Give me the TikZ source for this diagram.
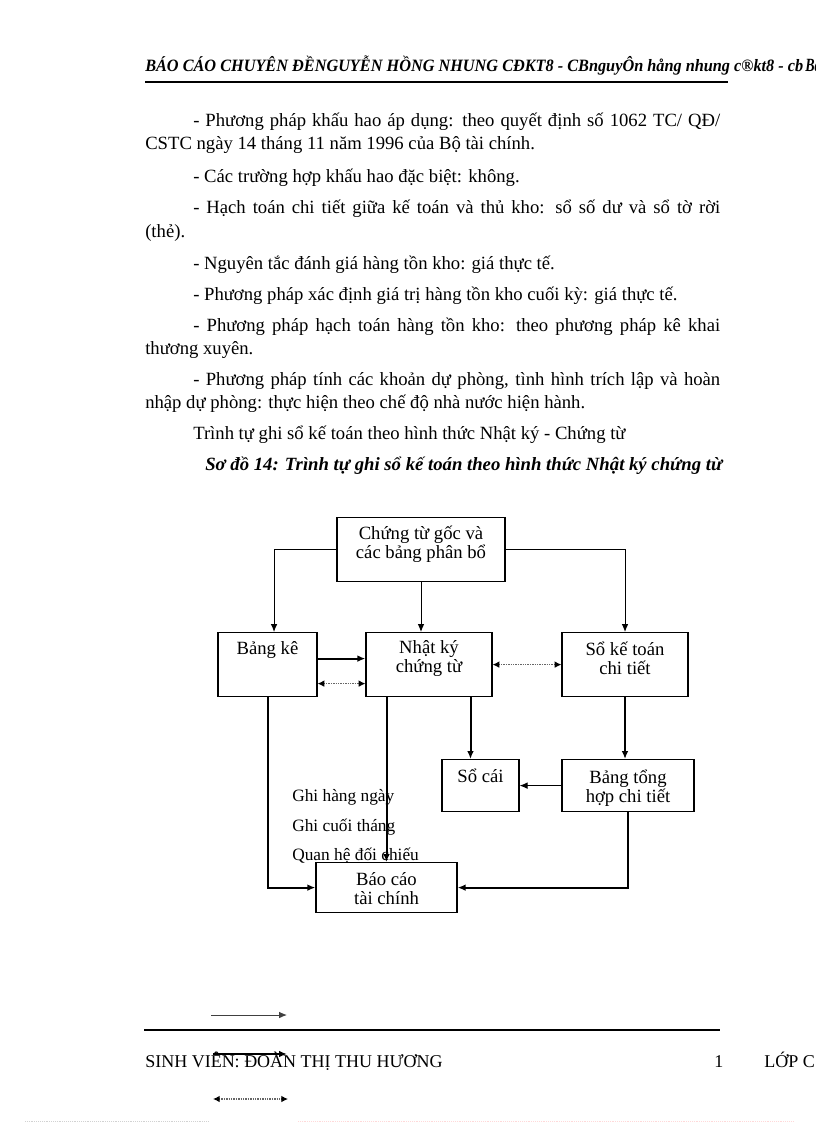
\documentclass[tikz,border=0pt]{standalone}
\usepackage{fontspec}
\setmainfont{Liberation Serif}
\usepackage{graphicx}
\usetikzlibrary{arrows.meta, calc}

\begin{document}
\begin{tikzpicture}[x=0.75pt, y=-0.75pt,
    box/.style={draw, line width=0.9pt, inner xsep=0pt, inner ysep=0pt, anchor=north, align=center, font=\fontsize{14}{14.5}\selectfont},
    flowthin/.style={line width=0.75pt, -{Latex[length=6pt,width=5pt]}},
    flow/.style={line width=1.5pt, -{Latex[length=6pt,width=5pt]}},
    relate/.style={line width=0.9pt, black!60, dash pattern=on 1pt off 0.8pt, {Latex[length=5pt,width=5pt,color=black]}-{Latex[length=5pt,width=5pt,color=black]}},
    body/.style={anchor=base west, inner sep=0pt, font=\fontsize{14}{16}\selectfont},
    legend/.style={anchor=base west, inner sep=0pt, font=\fontsize{13}{15}\selectfont}]
  \useasboundingbox (0,0) rectangle (816,1123);
  \clip (0,0) rectangle (816,1123);
  \fill[white] (0,0) rectangle (816,1123);

  % header
  \node[anchor=base west, inner sep=0pt] (head) at (145,72) {\resizebox{493.5pt}{\height}{\fontsize{13}{13}\selectfont\bfseries\itshape BÁO CÁO CHUYÊN ĐỀNGUYỄN HỒNG NHUNG CĐKT8 - CBnguyÔn hång nhung c®kt8 - cb}};
  \node[anchor=base west, inner sep=0pt] (headend) at (805,72) {\scalebox{0.75}[1]{\fontsize{14}{14}\selectfont\bfseries\itshape Bá}};
  \draw[line width=1.6pt] (145,82) -- (728,82);

  % text above the chart
  \node[body] (p1a) at (193,127) {\makebox[395.25pt][s]{- Phương pháp khấu hao áp dụng: theo quyết định số 1062 TC/ QĐ/}};
  \node[body] (p1b) at (145,150) {CSTC ngày 14 tháng 11 năm 1996 của Bộ tài chính.};
  \node[body] (p2) at (193,183) {- Các trường hợp khấu hao đặc biệt: không.};
  \node[body] (p3a) at (193,214) {\makebox[395.25pt][s]{- Hạch toán chi tiết giữa kế toán và thủ kho: sổ số dư và sổ tờ rời}};
  \node[body] (p3b) at (145,238) {(thẻ).};
  \node[body] (p4) at (193,269) {- Nguyên tắc đánh giá hàng tồn kho: giá thực tế.};
  \node[body] (p5) at (193,300) {- Phương pháp xác định giá trị hàng tồn kho cuối kỳ: giá thực tế.};
  \node[body] (p6a) at (193,331) {\makebox[395.25pt][s]{- Phương pháp hạch toán hàng tồn kho: theo phương pháp kê khai}};
  \node[body] (p6b) at (145,354) {thương xuyên.};
  \node[body] (p7a) at (193,385) {\makebox[395.25pt][s]{- Phương pháp tính các khoản dự phòng, tình hình trích lập và hoàn}};
  \node[body] (p7b) at (145,408) {nhập dự phòng: thực hiện theo chế độ nhà nước hiện hành.};
  \node[body] (p8) at (193,439) {Trình tự ghi sổ kế toán theo hình thức Nhật ký - Chứng từ};
  \node[body] (caption) at (205,470) {\resizebox{387.75pt}{\height}{\bfseries\itshape Sơ đồ 14: Trình tự ghi sổ kế toán theo hình thức Nhật ký chứng từ}};

  % boxes
  \node[box, minimum width=126pt, text height=30.75pt, text depth=17.25pt] (goc) at (421,517) {Chứng từ gốc và\\các bảng phân bổ};
  \node[box, minimum width=74.25pt, text height=16.5pt, text depth=31.5pt] (bangke) at (267.5,632) {Bảng kê};
  \node[box, minimum width=94.5pt, text height=30pt, text depth=18pt] (nhatky) at (429,632) {Nhật ký\\chứng từ};
  \node[box, minimum width=94.5pt, text height=31.5pt, text depth=16.5pt] (sochitiet) at (625,632) {Sổ kế toán\\chi tiết};
  \node[box, minimum width=57.75pt, text height=17.25pt, text depth=21.75pt] (socai) at (480.5,759) {Sổ cái};
  \node[box, minimum width=99pt, text height=32.25pt, text depth=6.75pt] (tonghop) at (628,759) {Bảng tổng\\hợp chi tiết};
  \node[box, minimum width=105.75pt, text height=31.5pt, text depth=6pt] (baocao) at (386.5,862) {Báo cáo\\tài chính};

  % legend texts
  \foreach \y/\name/\txt in {801/daily/{Ghi hàng ngày}, 831/monthly/{Ghi cuối tháng}, 860/check/{Quan hệ đối chiếu}}
    \node[legend] (\name) at (292,\y) {\txt};

  % connectors
  \draw[flowthin] (goc.west) -| ([xshift=4.9pt]bangke.north);
  \draw[flowthin] (goc.south) -- (goc.south |- nhatky.north);
  \draw[flowthin] (goc.east) -| (sochitiet.north);
  \draw[flow] ([yshift=4.5pt]bangke.east) -- ([yshift=4.5pt]bangke.east -| nhatky.west);
  \draw[relate] ([yshift=-14.25pt]bangke.east) -- ([yshift=-14.25pt]bangke.east -| nhatky.west);
  \draw[relate] (nhatky.east) -- (sochitiet.west);
  \draw[flow] (bangke.south) |- (baocao.west);
  \draw[flow] (nhatky.south -| baocao.north) -- (baocao.north);
  \draw[flow] ([xshift=-7.5pt]socai.north |- nhatky.south) -- ([xshift=-7.5pt]socai.north);
  \draw[flow] (sochitiet.south) -- (sochitiet.south |- tonghop.north);
  \draw[flowthin] (tonghop.west) -- (socai.east);
  \draw[flow] (tonghop.south) |- (baocao.east);

  % legend arrows, left at the foot of the page
  \coordinate (ka) at (211,1015); \coordinate (kb) at (287,1015);
  \coordinate (ma) at (213,1054); \coordinate (mb) at (287,1054);
  \coordinate (ra) at (213,1099); \coordinate (rb) at (288,1099);
  \draw[flowthin, black!75] (ka) -- (kb);
  \draw[flow] (ma) -- (mb);
  \draw[relate] (ra) -- (rb);

  % footer
  \draw[line width=1.6pt] (144,1030) -- (720,1030);
  \node[anchor=base west, inner sep=0pt, font=\fontsize{13.5}{15}\selectfont] (student) at (145,1067) {SINH VIÊN: ĐOÀN THỊ THU HƯƠNG};
  \node[anchor=base west, inner sep=0pt, font=\fontsize{13.5}{15}\selectfont] (pageno) at (714,1067) {1};
  \node[anchor=base west, inner sep=0pt, font=\fontsize{13.5}{15}\selectfont] (lop) at (764,1067) {LỚP C};
  \draw[gray!35, densely dotted] (25,1121) -- (209,1121);
  \draw[pink!60, densely dotted] (298,1121) -- (793,1121);
\end{tikzpicture}
\end{document}
